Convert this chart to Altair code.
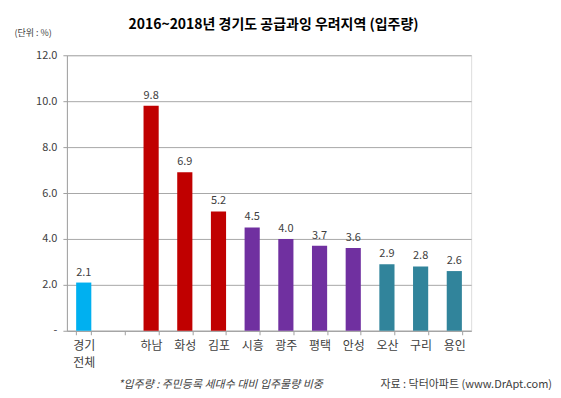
import altair as alt
import pandas as pd

categories = ["경기\n전체", " ", "하남", "화성", "김포", "시흥", "광주", "평택", "안성", "오산", "구리", "용인"]
values = [2.1, None, 9.8, 6.9, 5.2, 4.5, 4.0, 3.7, 3.6, 2.9, 2.8, 2.6]
groups = ["전체", "없음", "A", "A", "A", "B", "B", "B", "B", "C", "C", "C"]
group_names = ["전체", "A", "B", "C", "없음"]
group_colors = ["#00B0F0", "#C00000", "#7030A0", "#31849B", "#FFFFFF"]

df = pd.DataFrame({"cat": categories, "val": values, "grp": groups})

FONT = "Noto Sans CJK KR"
W, H = 405, 276

x = alt.X("cat:N", sort=categories, title=None,
          scale=alt.Scale(paddingInner=0.55, paddingOuter=0.275),
          axis=alt.Axis(labelAngle=0, labelExpr="split(datum.label, '\\n')",
                        labelFontSize=12, labelColor="#404040", labelFont=FONT,
                        labelPadding=6, labelLineHeight=17,
                        tickBand="extent", tickColor="#A0A0A0", tickSize=4,
                        domainColor="#A0A0A0", grid=False))

base = alt.Chart(df)

bars = base.mark_bar().encode(
    x=x,
    y=alt.Y("val:Q", scale=alt.Scale(domain=[0, 12]), title="(단위 : %)",
            axis=alt.Axis(values=[0, 2, 4, 6, 8, 10, 12],
                          labelExpr="datum.value == 0 ? '-' : format(datum.value, '.1f')",
                          labelFontSize=11, labelColor="#404040", labelFont=FONT,
                          labelPadding=6,
                          tickColor="#A0A0A0", tickSize=4, domainColor="#A0A0A0",
                          gridColor="#A8A8A8", gridWidth=1,
                          titleAngle=0, titleX=-53, titleY=-18, titleAlign="left",
                          titleFontSize=9, titleFontWeight="normal", titleColor="#404040",
                          titleFont=FONT)),
    color=alt.Color("grp:N", scale=alt.Scale(domain=group_names, range=group_colors), legend=None),
)

labels = base.transform_filter("isValid(datum.val)").mark_text(
    dy=-10, fontSize=11, color="#404040", font=FONT
).encode(x=x, y="val:Q", text=alt.Text("val:Q", format=".1f"))

title = alt.Chart(pd.DataFrame({"t": ["2016~2018년 경기도 공급과잉 우려지역 (입주량)"]})).mark_text(
    align="center", baseline="middle", fontSize=14, fontWeight="bold", color="#000000", font=FONT
).encode(x=alt.value(207), y=alt.value(-30), text="t:N")

foot1 = alt.Chart(pd.DataFrame({"t": ["*입주량 : 주민등록 세대수 대비 입주물량 비중"]})).mark_text(
    align="center", fontSize=11, fontStyle="italic", color="#404040", font=FONT
).encode(x=alt.value(154), y=alt.value(330), text="t:N")

foot2 = alt.Chart(pd.DataFrame({"t": ["자료 : 닥터아파트 (www.DrApt.com)"]})).mark_text(
    align="right", fontSize=11, color="#404040", font=FONT
).encode(x=alt.value(486), y=alt.value(330), text="t:N")

chart = alt.layer(bars, labels, title, foot1, foot2).properties(
    width=W, height=H,
    autosize=alt.AutoSizeParams(type="none"),
    padding={"left": 59, "top": 47, "right": 82, "bottom": 59},
).configure_view(stroke=None).configure(background="#FFFFFF")

chart.save("out.html", embed_options={"renderer": "svg", "actions": False})
